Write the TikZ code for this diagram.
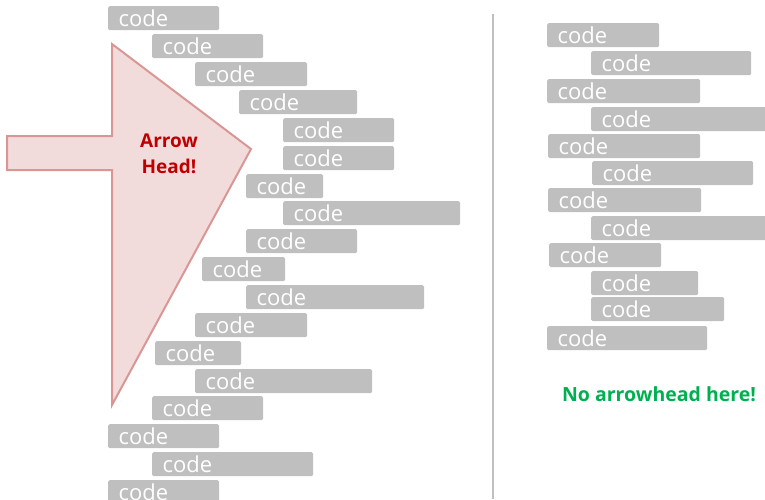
\documentclass[tikz,border=0pt]{standalone}
\usepackage{fontspec}
\setmainfont{Open Sans}
\definecolor{boxgray}{HTML}{BFBFBF}
\definecolor{arrowfill}{HTML}{F2DCDB}
\definecolor{arrowline}{HTML}{D99694}
\definecolor{headred}{HTML}{C00000}
\definecolor{okgreen}{HTML}{00B050}
\begin{document}
\begin{tikzpicture}[x=1pt,y=-1pt,
  cb/.style={fill=boxgray, rounded corners=1.5pt, inner xsep=10.5pt, inner ysep=0pt,
    minimum height=24pt, text width=#1, align=left, anchor=north west,
    text=white, font=\fontsize{22}{24}\selectfont},
  note/.style={font=\fontsize{19}{26}\selectfont\bfseries, align=center}]
\useasboundingbox (0,0) rectangle (765,499);
\clip (0,0) rectangle (765,499);
% arrow shape
\draw[fill=arrowfill, draw=arrowline, line width=2pt, line join=miter]
  (7,136) -- (112,136) -- (112,44) -- (251,149) -- (112,405) -- (112,170) -- (7,170) -- cycle;
\node[note, text=headred] (arrowtext) at (169,154) {Arrow\\Head!};
% left column
\node[cb=90pt]  (L1)  at (108,6)   {code};
\node[cb=90pt]  (L2)  at (152,34)  {code};
\node[cb=91pt]  (L3)  at (195,62)  {code};
\node[cb=97pt]  (L4)  at (239,90)  {code};
\node[cb=90pt]  (L5)  at (283,118) {code};
\node[cb=90pt]  (L6)  at (283,146) {code};
\node[cb=56pt]  (L7)  at (246,174) {code};
\node[cb=156pt] (L8)  at (283,201) {code};
\node[cb=90pt]  (L9)  at (246,229) {code};
\node[cb=62pt]  (L10) at (202,257) {code};
\node[cb=157pt] (L11) at (246,285) {code};
\node[cb=91pt]  (L12) at (195,313) {code};
\node[cb=65pt]  (L13) at (155,341) {code};
\node[cb=156pt] (L14) at (195,369) {code};
\node[cb=90pt]  (L15) at (152,396) {code};
\node[cb=90pt]  (L16) at (108,424) {code};
\node[cb=140pt] (L17) at (152,452) {code};
\node[cb=90pt]  (L18) at (108,480) {code};
% divider
\draw[boxgray, line width=2.5pt] (493,14) -- (493,499);
% right column
\node[cb=91pt]  (R1)  at (547,23)  {code};
\node[cb=139pt] (R2)  at (591,51)  {code};
\node[cb=132pt] (R3)  at (547,79)  {code};
\node[cb=159pt] (R4)  at (591,107) {code};
\node[cb=131pt] (R5)  at (548,134) {code};
\node[cb=140pt] (R6)  at (592,161) {code};
\node[cb=132pt] (R7)  at (548,188) {code};
\node[cb=159pt] (R8)  at (591,216) {code};
\node[cb=91pt]  (R9)  at (549,243) {code};
\node[cb=86pt]  (R10) at (591,271) {code};
\node[cb=112pt] (R11) at (591,297) {code};
\node[cb=139pt] (R12) at (547,326) {code};
\node[note, text=okgreen, font=\fontsize{19.5}{22}\selectfont\bfseries] (noarrow) at (659,394) {No arrowhead here!};
\end{tikzpicture}
\end{document}
